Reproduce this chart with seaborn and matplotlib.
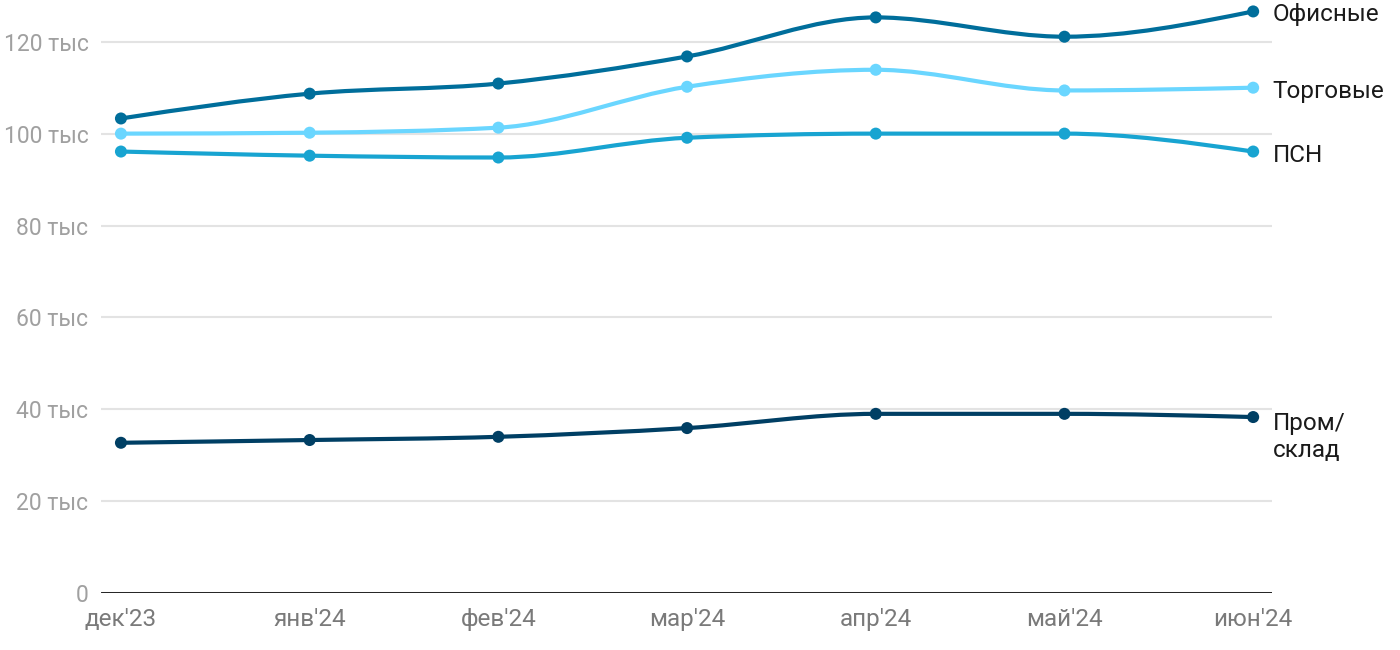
import numpy as np
import pandas as pd
import matplotlib
matplotlib.use('Agg')
import matplotlib.pyplot as plt
from matplotlib.path import Path
from matplotlib.patches import PathPatch
import seaborn as sns

months = ["дек'23", "янв'24", "фев'24", "мар'24", "апр'24", "май'24", "июн'24"]
office = [103.3, 108.7, 110.9, 116.8, 125.3, 121.1, 126.6]
retail = [100.0, 100.2, 101.3, 110.2, 113.9, 109.4, 110.0]
psn = [96.1, 95.2, 94.8, 99.1, 100.0, 100.0, 96.1]
industrial = [32.7, 33.3, 34.0, 35.9, 39.0, 39.0, 38.3]

names = ['Офисные', 'Торговые', 'ПСН', 'Пром/\nсклад']
colors = ['#006e9b', '#6ad6ff', '#18a4d1', '#003f64']

df = pd.DataFrame({'month': months * 4,
                   'x': list(range(len(months))) * 4,
                   'value': office + retail + psn + industrial,
                   'series': sum([[n] * len(months) for n in names], [])})

sns.set_style('white')
plt.rcParams['font.family'] = ['Roboto', 'DejaVu Sans']


def monotone_path(xs, ys):
    # same idea as d3 curveMonotoneX
    xs = np.asarray(xs, float)
    ys = np.asarray(ys, float)
    n = len(xs)
    t = np.zeros(n)
    for i in range(1, n - 1):
        h0 = xs[i] - xs[i - 1]
        h1 = xs[i + 1] - xs[i]
        s0 = (ys[i] - ys[i - 1]) / h0
        s1 = (ys[i + 1] - ys[i]) / h1
        p = (s0 * h1 + s1 * h0) / (h0 + h1)
        t[i] = (np.sign(s0) + np.sign(s1)) * min(abs(s0), abs(s1), 0.5 * abs(p))
    t[0] = (3 * (ys[1] - ys[0]) / (xs[1] - xs[0]) - t[1]) / 2
    t[-1] = (3 * (ys[-1] - ys[-2]) / (xs[-1] - xs[-2]) - t[-2]) / 2
    verts = [(xs[0], ys[0])]
    codes = [Path.MOVETO]
    for i in range(n - 1):
        dx = (xs[i + 1] - xs[i]) / 3
        verts += [(xs[i] + dx, ys[i] + dx * t[i]),
                  (xs[i + 1] - dx, ys[i + 1] - dx * t[i + 1]),
                  (xs[i + 1], ys[i + 1])]
        codes += [Path.CURVE4] * 3
    return Path(verts, codes)


fig = plt.figure(figsize=(14, 6.5), dpi=100)
ax = fig.add_axes([0.0721, 0.0877, 0.8365, 0.9046])

for name, color in zip(names, colors):
    sub = df[df['series'] == name]
    ax.add_patch(PathPatch(monotone_path(sub['x'], sub['value']), facecolor='none',
                           edgecolor=color, lw=3, capstyle='round', zorder=3))

sns.scatterplot(data=df, x='x', y='value', hue='series', palette=dict(zip(names, colors)),
                s=75, edgecolor='none', legend=False, zorder=4, ax=ax)

for name, color in zip(names, colors):
    y_end = df[df['series'] == name]['value'].iloc[-1]
    va = 'top' if '\n' in name else 'center'
    ax.annotate(name, (len(months) - 1, y_end), xytext=(14, 4 if va == 'top' else -2.5),
                textcoords='offset points', ha='left', va=va, fontsize=17.5,
                color='#1a1a1a', linespacing=1.25, annotation_clip=False)

ax.set_xlim(-0.106, len(months) - 1 + 0.1)
ax.set_ylim(0, 128)
yticks = [0, 20, 40, 60, 80, 100, 120]
ax.set_yticks(yticks)
ax.set_yticklabels(['0'] + [f'{v} тыс' for v in yticks[1:]])
ax.set_xticks(range(len(months)))
ax.set_xticklabels(months)
ax.tick_params(axis='y', length=0, pad=9, labelsize=16.5, labelcolor='#a0a0a0')
ax.tick_params(axis='x', length=0, pad=11, labelsize=17.5, labelcolor='#7a7a7a')
ax.grid(axis='y', color='#e3e3e3', lw=1.5)
ax.grid(axis='x', visible=False)
ax.axhline(0, color='#111111', lw=2, zorder=2)
for s in ax.spines.values():
    s.set_visible(False)
ax.set_xlabel('')
ax.set_ylabel('')

fig.savefig('out.png', dpi=100)
